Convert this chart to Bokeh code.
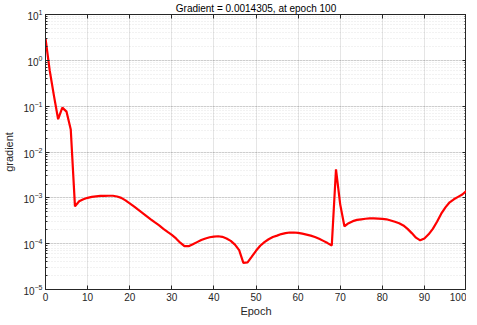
from bokeh.plotting import figure
from bokeh.models import LinearAxis, LogAxis, FixedTicker, Range1d, LogTicker, CustomJSTickFormatter
from bokeh.embed import file_html
from bokeh.resources import INLINE

epochs = list(range(0, 101))
gradient = [
    3.0, 0.6, 0.17, 0.052, 0.093, 0.076, 0.031, 0.00065, 0.00084, 0.00093,
    0.001, 0.00105, 0.00108, 0.0011, 0.0011, 0.00111, 0.00111, 0.00107, 0.001, 0.00088,
    0.00076, 0.00065, 0.00055, 0.00047, 0.0004, 0.00034, 0.00029, 0.00025, 0.00021, 0.00018,
    0.000155, 0.00013, 0.000105, 0.000088, 0.000088, 0.000097, 0.000108, 0.00012, 0.00013, 0.000138,
    0.000143, 0.000145, 0.000141, 0.00013, 0.000115, 0.000095, 0.000072, 0.000038, 0.000039, 0.000052,
    0.00007, 0.00009, 0.000108, 0.000125, 0.00014, 0.00015, 0.000162, 0.00017, 0.000175, 0.000175,
    0.000172, 0.000165, 0.000158, 0.00015, 0.00014, 0.000128, 0.000115, 0.000103, 0.000091, 0.0042,
    0.00072, 0.00024, 0.00028, 0.00031, 0.00033, 0.00034, 0.00035, 0.000355, 0.000355, 0.000352,
    0.000348, 0.00034, 0.00032, 0.0003, 0.00028, 0.00025, 0.00021, 0.00017, 0.000135, 0.000118,
    0.00013, 0.00016, 0.00021, 0.0003, 0.00045, 0.00062, 0.0008, 0.00093, 0.00105, 0.00118,
    0.0014305,
]
x_ticks = [0, 10, 20, 30, 40, 50, 60, 70, 80, 90, 100]
title_text = "Gradient = 0.0014305, at epoch 100"

FONT = "Liberation Sans"
DARK = "#262626"

p = figure(frame_width=421, frame_height=275, y_axis_type="log", output_backend="svg",
           toolbar_location=None, x_range=Range1d(0, 100), y_range=Range1d(1e-5, 1e1),
           min_border_left=0, min_border_right=0, min_border_top=3, min_border_bottom=0)

p.title.text = title_text
p.title.align = "center"
p.title.text_font = FONT
p.title.text_font_size = "10px"
p.title.text_font_style = "normal"
p.title.text_color = "#000000"
p.title.standoff = 1

p.outline_line_color = DARK
p.outline_line_width = 1

for ax in (p.xaxis[0], p.yaxis[0]):
    ax.axis_line_color = DARK
    ax.major_tick_line_color = DARK
    ax.minor_tick_line_color = DARK
    ax.major_tick_in = 4
    ax.major_tick_out = 0
    ax.minor_tick_in = 2
    ax.minor_tick_out = 0
    ax.major_label_text_font = FONT
    ax.major_label_text_font_size = "10px"
    ax.major_label_text_color = DARK
    ax.axis_label_text_font = FONT
    ax.axis_label_text_font_size = "11px"
    ax.axis_label_text_font_style = "normal"
    ax.axis_label_text_color = DARK

p.xaxis.ticker = FixedTicker(ticks=x_ticks)
p.xaxis.minor_tick_line_color = None
p.xaxis.axis_label = "Epoch"
p.xaxis.axis_label_standoff = 1
p.xaxis.major_label_standoff = 3
p.yaxis.ticker = LogTicker(num_minor_ticks=10, desired_num_ticks=7)
p.yaxis.axis_label = "gradient"
p.yaxis.axis_label_standoff = 5
p.yaxis.major_label_standoff = 3

blank = CustomJSTickFormatter(code="return '';")
top = LinearAxis(ticker=FixedTicker(ticks=x_ticks), formatter=blank,
                 axis_line_color=DARK, major_tick_line_color=DARK, major_tick_in=4,
                 major_tick_out=0, minor_tick_line_color=None, major_label_standoff=0)
p.add_layout(top, "above")
right = LogAxis(ticker=LogTicker(num_minor_ticks=10, desired_num_ticks=7),
                formatter=CustomJSTickFormatter(code="return '';"),
                axis_line_color=DARK, major_tick_line_color=DARK, minor_tick_line_color=DARK,
                major_tick_in=4, major_tick_out=0, minor_tick_in=2, minor_tick_out=0,
                major_label_standoff=0)
p.add_layout(right, "right")

p.xgrid.ticker = FixedTicker(ticks=x_ticks)
p.xgrid.grid_line_color = "#000000"
p.xgrid.grid_line_alpha = 0.1
p.ygrid.grid_line_color = "#000000"
p.ygrid.grid_line_alpha = 0.1
p.ygrid.minor_grid_line_color = "#000000"
p.ygrid.minor_grid_line_alpha = 0.1
p.ygrid.minor_grid_line_dash = "1 2"

p.line(epochs, gradient, line_color="#ff0000", line_width=2.2)

open("out.html", "w").write(file_html(p, INLINE))
